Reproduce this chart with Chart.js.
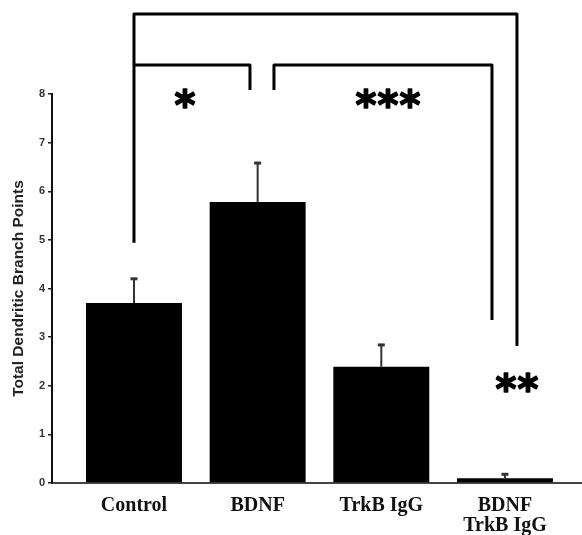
<!DOCTYPE html>
<html>
<head>
<meta charset="utf-8">
<script src="https://cdn.jsdelivr.net/npm/chart.js@4.4.1/dist/chart.umd.min.js"></script>
<style>
html,body{margin:0;padding:0;background:#fff;}
#wrap{width:582px;height:535px;position:relative;}
</style>
</head>
<body>
<div id="wrap"><canvas id="c"></canvas></div>
<script>
// ---- data ----
const categories = ['Control', 'BDNF', 'TrkB IgG', ['BDNF', 'TrkB IgG']];
const positions = [1, 2, 3, 4];
const meanValues = [3.70, 5.78, 2.39, 0.10];
const errorUpper = [0.52, 0.82, 0.47, 0.10];
const yTicks = [0, 1, 2, 3, 4, 5, 6, 7, 8];
const yTitle = 'Total Dendritic Branch Points';

// ---- significance annotations (in data units) ----
const bracketLines = [
  [[1, 4.94], [1, 9.645], [4.097, 9.645], [4.097, 2.82]],
  [[1, 8.596], [1.938, 8.596], [1.938, 8.08]],
  [[2.132, 8.08], [2.132, 8.596], [3.895, 8.596], [3.895, 3.35]]
];
const starLabels = ['*', '***', '**'];
const starX = [1.412, 3.054, 4.097];
const starY = [7.918, 7.918, 2.077];

const annotPlugin = {
  id: 'annot',
  afterDatasetsDraw(chart) {
    const ctx = chart.ctx;
    const xs = chart.scales.x, ys = chart.scales.y;
    ctx.save();
    // error bars
    for (let i = 0; i < meanValues.length; i++) {
      const x = xs.getPixelForValue(positions[i]);
      const yb = ys.getPixelForValue(meanValues[i]);
      const yt = ys.getPixelForValue(meanValues[i] + errorUpper[i]);
      ctx.strokeStyle = '#333';
      ctx.lineWidth = 2;
      ctx.beginPath();
      ctx.moveTo(x, yb);
      ctx.lineTo(x, yt);
      ctx.stroke();
      ctx.lineWidth = 3;
      ctx.beginPath();
      ctx.moveTo(x - 3.5, yt + 1);
      ctx.lineTo(x + 3.5, yt + 1);
      ctx.stroke();
    }
    // brackets
    ctx.strokeStyle = '#000';
    ctx.lineWidth = 3;
    ctx.lineJoin = 'round';
    ctx.lineCap = 'butt';
    bracketLines.forEach(pts => {
      ctx.beginPath();
      pts.forEach((p, j) => {
        const px = xs.getPixelForValue(p[0]);
        const py = ys.getPixelForValue(p[1]);
        if (j === 0) ctx.moveTo(px, py); else ctx.lineTo(px, py);
      });
      ctx.stroke();
    });
    // stars (each glyph placed separately with fixed pitch)
    ctx.fillStyle = '#000';
    ctx.strokeStyle = '#000';
    ctx.lineWidth = 1.5;
    ctx.lineJoin = 'round';
    ctx.font = 'bold 40px "DejaVu Sans", sans-serif';
    ctx.textAlign = 'center';
    ctx.textBaseline = 'alphabetic';
    const pitch = 22;
    starLabels.forEach((t, i) => {
      const m = ctx.measureText('*');
      const cx = xs.getPixelForValue(starX[i]);
      const cy = ys.getPixelForValue(starY[i]);
      const base = cy - (m.actualBoundingBoxDescent - m.actualBoundingBoxAscent) / 2;
      const n = t.length;
      for (let k = 0; k < n; k++) {
        const gx = cx + (k - (n - 1) / 2) * pitch;
        ctx.fillText('*', gx, base);
        ctx.strokeText('*', gx, base);
      }
    });
    ctx.restore();
  }
};

new Chart(document.getElementById('c'), {
  type: 'bar',
  data: {
    datasets: [{
      data: positions.map((p, i) => ({ x: p, y: meanValues[i] })),
      backgroundColor: '#000',
      borderWidth: 0,
      barPercentage: 1,
      categoryPercentage: 0.776
    }]
  },
  options: {
    responsive: true,
    maintainAspectRatio: false,
    animation: false,
    devicePixelRatio: 1,
    layout: { padding: { top: 94, left: 0, right: 0, bottom: 0 } },
    plugins: { legend: { display: false }, tooltip: { enabled: false } },
    scales: {
      x: {
        type: 'linear',
        offset: false,
        bounds: 'data',
        min: 0.337,
        max: 4.623,
        afterBuildTicks(scale) { scale.ticks = positions.map(v => ({ value: v })); },
        afterFit(scale) { scale.height = 52; },
        grid: { display: false, drawTicks: false, offset: false },
        border: { display: true, color: '#444', width: 2 },
        ticks: {
          autoSkip: false,
          maxRotation: 0,
          minRotation: 0,
          padding: 13,
          color: '#111',
          font: { family: '"Liberation Serif", "Times New Roman", serif', size: 20, weight: 'bold', lineHeight: 1.0 },
          callback: (v) => categories[positions.indexOf(v)]
        }
      },
      y: {
        min: 0,
        max: 8,
        afterBuildTicks(scale) { scale.ticks = yTicks.map(v => ({ value: v })); },
        afterFit(scale) { scale.width = 52; },
        grid: { display: true, drawOnChartArea: false, drawTicks: true, tickLength: 4, color: '#222', lineWidth: 1.5 },
        border: { display: true, color: '#111', width: 2 },
        ticks: {
          padding: 3,
          color: '#333',
          font: { family: '"Liberation Sans", Arial, sans-serif', size: 11, weight: 'bold' }
        },
        title: {
          display: true,
          text: yTitle,
          color: '#222',
          padding: { top: 9, bottom: 0 },
          font: { family: '"Liberation Sans", Arial, sans-serif', size: 15.5, weight: 'bold' }
        }
      }
    }
  },
  plugins: [annotPlugin]
});
</script>
</body>
</html>
